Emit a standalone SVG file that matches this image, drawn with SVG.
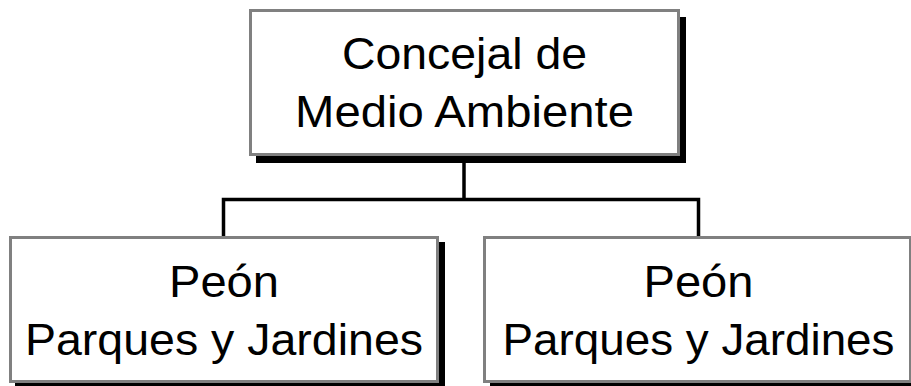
<svg xmlns="http://www.w3.org/2000/svg" width="911" height="386" viewBox="0 0 911 386">
<style>
.shadow{fill:#000}
.box{fill:#fff;stroke:#808080;stroke-width:3}
.lbl{font-family:"Liberation Sans",Arial,sans-serif;font-size:44px;fill:#000;text-anchor:middle}
.conn{fill:none;stroke:#000;stroke-width:3.5;stroke-linejoin:miter}
</style>
<rect width="911" height="386" fill="#fff"/>
<g id="connectors">
<path class="conn" d="M464 156 V199.5"/>
<path class="conn" d="M223.5 237 V199.5 H698.5 V237"/>
</g>
<g id="node-concejal">
<rect class="shadow" x="256" y="17" width="430" height="146"/>
<rect class="box" x="250.5" y="10.5" width="428" height="144"/>
<text class="lbl" x="464.5" y="68.5" textLength="245" lengthAdjust="spacingAndGlyphs">Concejal de</text>
<text class="lbl" x="464.5" y="126.5" textLength="339" lengthAdjust="spacingAndGlyphs">Medio Ambiente</text>
</g>
<g id="node-peon-1">
<rect class="shadow" x="15" y="242" width="430" height="144"/>
<rect class="box" x="10.5" y="237.5" width="427" height="144"/>
<text class="lbl" x="224" y="296.7" textLength="110" lengthAdjust="spacingAndGlyphs">Peón</text>
<text class="lbl" x="224" y="354.5" textLength="398" lengthAdjust="spacingAndGlyphs">Parques y Jardines</text>
</g>
<g id="node-peon-2">
<rect class="shadow" x="490" y="242" width="430" height="144"/>
<rect class="box" x="484.5" y="237.5" width="426" height="144"/>
<text class="lbl" x="698.5" y="296.7" textLength="110" lengthAdjust="spacingAndGlyphs">Peón</text>
<text class="lbl" x="698.5" y="354.5" textLength="392" lengthAdjust="spacingAndGlyphs">Parques y Jardines</text>
</g>
</svg>
